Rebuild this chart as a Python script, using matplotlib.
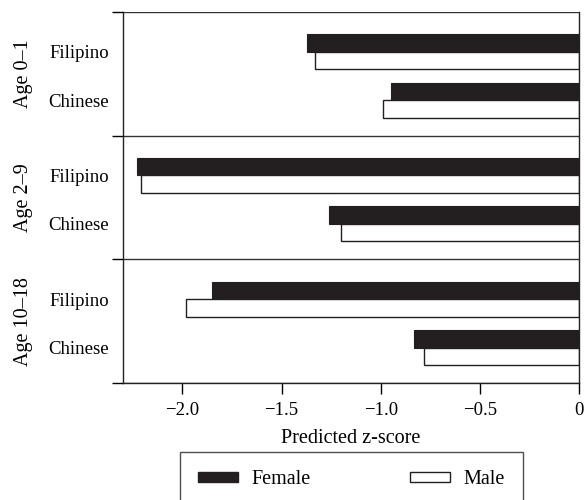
import numpy as np
import matplotlib.pyplot as plt
from matplotlib.patches import Patch

plt.rcParams['font.family'] = ['Liberation Serif', 'DejaVu Serif']
plt.rcParams['font.size'] = 13

# data (predicted z-scores)
age_groups = ['Age 0\u20131', 'Age 2\u20139', 'Age 10\u201318']
ethnicities = ['Filipino', 'Chinese']
female = [[-1.37, -0.95], [-2.23, -1.26], [-1.85, -0.83]]
male = [[-1.33, -0.99], [-2.21, -1.20], [-1.98, -0.78]]
xticks = [-2.0, -1.5, -1.0, -0.5, 0]
xticklabels = ['\u22122.0', '\u22121.5', '\u22121.0', '\u22120.5', '0']

panel_h = 2.55
centers = [0.82, 1.82]   # offset of each ethnicity row from panel top
bar_h = 0.36
dark = '#231f20'

fig = plt.figure(figsize=(5.84, 5.0), dpi=100)
ax = fig.add_axes([123 / 584, 1 - 383 / 500, (579 - 123) / 584, (383 - 12) / 500])

ypos, ylabels = [], []
for g in range(len(age_groups)):
    top = g * panel_h
    for e in range(len(ethnicities)):
        y = top + centers[e]
        ax.barh(y - bar_h / 2, female[g][e], height=bar_h, color=dark, edgecolor=dark, lw=0.8)
        ax.barh(y + bar_h / 2, male[g][e], height=bar_h, color='white', edgecolor=dark, lw=1.0)
        ypos.append(y)
        ylabels.append(ethnicities[e])
    ax.text(-0.218, top + panel_h / 2, age_groups[g], rotation=90,
            ha='center', va='center', transform=ax.get_yaxis_transform(), fontsize=14.5)

bounds = [g * panel_h for g in range(len(age_groups) + 1)]
for b in bounds:
    ax.axhline(b, color='#333333', lw=1.0)

ax.set_ylim(bounds[-1], 0)
ax.set_xlim(-2.3, 0)
ax.set_yticks(ypos)
ax.set_yticklabels(ylabels, fontsize=13.5)
ax.set_yticks(bounds, minor=True)
ax.tick_params(axis='y', which='major', length=0, pad=10)
ax.tick_params(axis='y', which='minor', length=8, direction='out', width=1.0)
ax.set_xticks(xticks)
ax.set_xticklabels(xticklabels, fontsize=13.5)
ax.tick_params(axis='x', length=8, direction='out', width=1.0, pad=6)
ax.set_xlabel('Predicted z-score', labelpad=7, fontsize=14.5)
for s in ax.spines.values():
    s.set_color('#222222')
    s.set_linewidth(1.0)
ax.spines['top'].set_visible(False)

handles = [Patch(facecolor=dark, edgecolor=dark, label='Female'),
           Patch(facecolor='white', edgecolor=dark, label='Male')]
leg = fig.legend(handles=handles, loc='upper left', ncol=2, mode='expand',
                 bbox_to_anchor=(180 / 584, 1 - 452 / 500 - 0.1, 343 / 584, 0.1),
                 borderaxespad=0, frameon=True, fancybox=False, edgecolor='#222222',
                 handlelength=2.0, handleheight=0.45, handletextpad=0.65,
                 borderpad=0.9, fontsize=14.5)
leg.get_frame().set_linewidth(1.0)

fig.savefig('out.png', dpi=100)
